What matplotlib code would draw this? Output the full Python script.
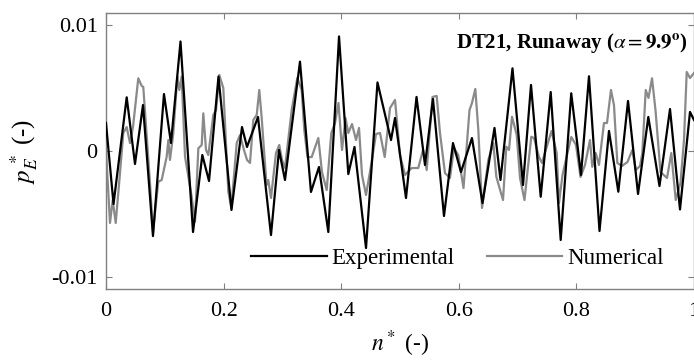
import matplotlib
matplotlib.use("Agg")
import matplotlib.pyplot as plt

plt.rcParams['font.family'] = ['Liberation Serif', 'DejaVu Serif']
plt.rcParams['mathtext.fontset'] = 'stix'

# Experimental (black) series
exp_n = [0.000, 0.0128, 0.0352, 0.0493, 0.0629, 0.0799, 0.0986, 0.1105, 0.1267, 0.1480,
         0.1638, 0.1752, 0.1913, 0.2134, 0.2313, 0.2398, 0.2585, 0.2806, 0.2942, 0.3044,
         0.3299, 0.3486, 0.3622, 0.3781, 0.3963, 0.4121, 0.4226, 0.4422, 0.4617, 0.4847,
         0.4915, 0.5102, 0.5281, 0.5425, 0.5561, 0.5748, 0.5901, 0.6037, 0.6224, 0.6403,
         0.6607, 0.6709, 0.6913, 0.7092, 0.7228, 0.7393, 0.7563, 0.7733, 0.7912, 0.8078,
         0.8214, 0.8393, 0.8554, 0.8713, 0.8878, 0.9048, 0.9223, 0.9413, 0.9592, 0.9762,
         0.9932, 1.000]
exp_p = [0.00222, -0.00421, 0.00426, -0.00103, 0.00365, -0.00675, 0.00452, 0.00063, 0.00869, -0.00643,
         -0.00032, -0.00238, 0.00591, -0.00468, 0.00190, 0.00032, 0.00270, -0.00667, 0.00008, -0.00230,
         0.00709, -0.00325, -0.00127, -0.00643, 0.00909, -0.00183, 0.00032, -0.00770, 0.00544, 0.00087,
         0.00262, -0.00373, 0.00429, -0.00111, 0.00413, -0.00516, 0.00063, -0.00167, 0.00103, -0.00413,
         0.00183, -0.00230, 0.00656, -0.00270, 0.00524, -0.00363, 0.00468, -0.00706, 0.00458, -0.00190,
         0.00593, -0.00635, 0.00159, -0.00323, 0.00397, -0.00341, 0.00270, -0.00278, 0.00333, -0.00464,
         0.00310, 0.00246]

# Numerical (gray) series
num_n = [0.0000, 0.0068, 0.0114, 0.0165, 0.0238, 0.0294, 0.0352, 0.0408, 0.0459, 0.0549,
         0.0607, 0.0634, 0.0748, 0.0799, 0.0889, 0.0947, 0.1032, 0.1060, 0.1088, 0.1145,
         0.1213, 0.1247, 0.1287, 0.1344, 0.1457, 0.1514, 0.1570, 0.1628, 0.1655, 0.1701,
         0.1740, 0.1825, 0.1871, 0.1927, 0.1995, 0.2080, 0.2131, 0.2223, 0.2279, 0.2347,
         0.2398, 0.2449, 0.2505, 0.2563, 0.2607, 0.2648, 0.2730, 0.2760, 0.2806, 0.2891,
         0.2947, 0.2993, 0.3044, 0.3158, 0.3253, 0.3328, 0.3372, 0.3427, 0.3498, 0.3611,
         0.3673, 0.3753, 0.3832, 0.3895, 0.3954, 0.4014, 0.4073, 0.4121, 0.4184, 0.4252,
         0.4303, 0.4354, 0.4422, 0.4515, 0.4592, 0.4660, 0.4740, 0.4830, 0.4915, 0.5000,
         0.5085, 0.5199, 0.5311, 0.5391, 0.5454, 0.5553, 0.5624, 0.5680, 0.5765, 0.5850,
         0.5918, 0.5991, 0.6080, 0.6182, 0.6224, 0.6281, 0.6332, 0.6395, 0.6502, 0.6587,
         0.6638, 0.6752, 0.6808, 0.6854, 0.6905, 0.6985, 0.7041, 0.7117, 0.7177, 0.7233,
         0.7279, 0.7364, 0.7415, 0.7500, 0.7577, 0.7665, 0.7704, 0.7764, 0.7828, 0.7913,
         0.7993, 0.8070, 0.8146, 0.8231, 0.8270, 0.8328, 0.8384, 0.8469, 0.8520, 0.8588,
         0.8639, 0.8696, 0.8776, 0.8869, 0.8951, 0.9009, 0.9082, 0.9121, 0.9179, 0.9226,
         0.9286, 0.9345, 0.9430, 0.9541, 0.9614, 0.9689, 0.9770, 0.9830, 0.9876, 0.9932,
         1.0000]
num_p = [0.00008, -0.00571, -0.00389, -0.00571, -0.00175, 0.00143, 0.00190, 0.00063, 0.00190, 0.00577,
         0.00516, 0.00508, -0.00254, -0.00643, -0.00244, -0.00230, -0.00045, 0.00087, -0.00071, 0.00143,
         0.00590, 0.00484, 0.00590, -0.00045, -0.00363, -0.00561, 0.00021, 0.00048, 0.00299, 0.00008,
         -0.00032, 0.00286, 0.00325, 0.00603, 0.00500, -0.00323, -0.00452, 0.00063, 0.00127, 0.00008,
         -0.00071, -0.00095, 0.00246, 0.00286, 0.00484, 0.00262, -0.00270, -0.00230, -0.00373, -0.00016,
         0.00048, -0.00071, -0.00135, 0.00325, 0.00579, 0.00484, 0.00167, -0.00048, -0.00048, 0.00103,
         -0.00167, -0.00310, 0.00143, 0.00222, 0.00381, 0.00008, 0.00262, 0.00143, 0.00214, 0.00087,
         0.00183, -0.00190, -0.00349, -0.00095, 0.00135, 0.00143, -0.00048, 0.00341, 0.00405, -0.00032,
         -0.00190, -0.00135, -0.00135, 0.00008, -0.00151, 0.00429, 0.00437, 0.00143, -0.00175, -0.00214,
         0.00024, -0.00032, -0.00294, 0.00325, 0.00381, 0.00492, 0.00167, -0.00452, -0.00071, 0.00063,
         -0.00204, -0.00389, 0.00034, 0.00008, 0.00272, 0.00127, -0.00214, -0.00389, -0.00125, 0.00113,
         0.00103, -0.00048, -0.00095, 0.00040, 0.00159, -0.00016, -0.00413, -0.00190, -0.00056, 0.00111,
         0.00048, -0.00206, -0.00111, 0.00087, -0.00125, -0.00016, -0.00111, 0.00222, 0.00222, 0.00484,
         0.00365, -0.00095, -0.00119, -0.00087, 0.00008, -0.00151, -0.00119, -0.00016, 0.00484, 0.00421,
         0.00577, 0.00325, -0.00167, -0.00214, -0.00016, -0.00389, -0.00254, 0.00087, 0.00627, 0.00579,
         0.00619]

x_ticks = [0, 0.2, 0.4, 0.6, 0.8, 1]
x_ticklabels = ['0', '0.2', '0.4', '0.6', '0.8', '1']
y_ticks = [-0.01, 0, 0.01]
y_ticklabels = ['-0.01', '0', '0.01']

fig = plt.figure(figsize=(6.94, 3.63), dpi=100)
ax = fig.add_axes([106/694, 1-289/363, 588/694, 276/363])

ax.plot(exp_n, exp_p, color='black', lw=1.6, label='Experimental', zorder=3,
        solid_joinstyle='round')
ax.plot(num_n, num_p, color='#8a8a8a', lw=1.6, label='Numerical', zorder=2,
        solid_joinstyle='round')

ax.set_xlim(0, 1)
ax.set_ylim(-0.01095, 0.01095)
ax.set_xticks(x_ticks)
ax.set_xticklabels(x_ticklabels)
ax.set_yticks(y_ticks)
ax.set_yticklabels(y_ticklabels)
ax.tick_params(axis='x', pad=9)
ax.tick_params(axis='y', pad=6)
ax.tick_params(direction='in', top=True, right=True, length=4, width=0.8,
               color='#808080', labelsize=16)
for s in ax.spines.values():
    s.set_color('#808080')
    s.set_linewidth(1.0)

ax.set_xlabel(r'$n^*$ (-)', fontsize=17, labelpad=6)
ax.set_ylabel(r'$p_E^{\,*}$ (-)', fontsize=18, labelpad=8)

ax.text(0.99, 0.89, r'DT21, Runaway ($\alpha = \mathbf{9.9}^{\mathbf{o}}$)',
        transform=ax.transAxes, ha='right', va='center', fontsize=15, fontweight='bold')

ax.legend(loc='center right', bbox_to_anchor=(0.948, 0.112), ncol=2, frameon=False,
          fontsize=16.5, handlelength=3.3, handletextpad=0.2, columnspacing=1.4,
          borderaxespad=0, borderpad=0)

fig.savefig('out.png', dpi=100)
